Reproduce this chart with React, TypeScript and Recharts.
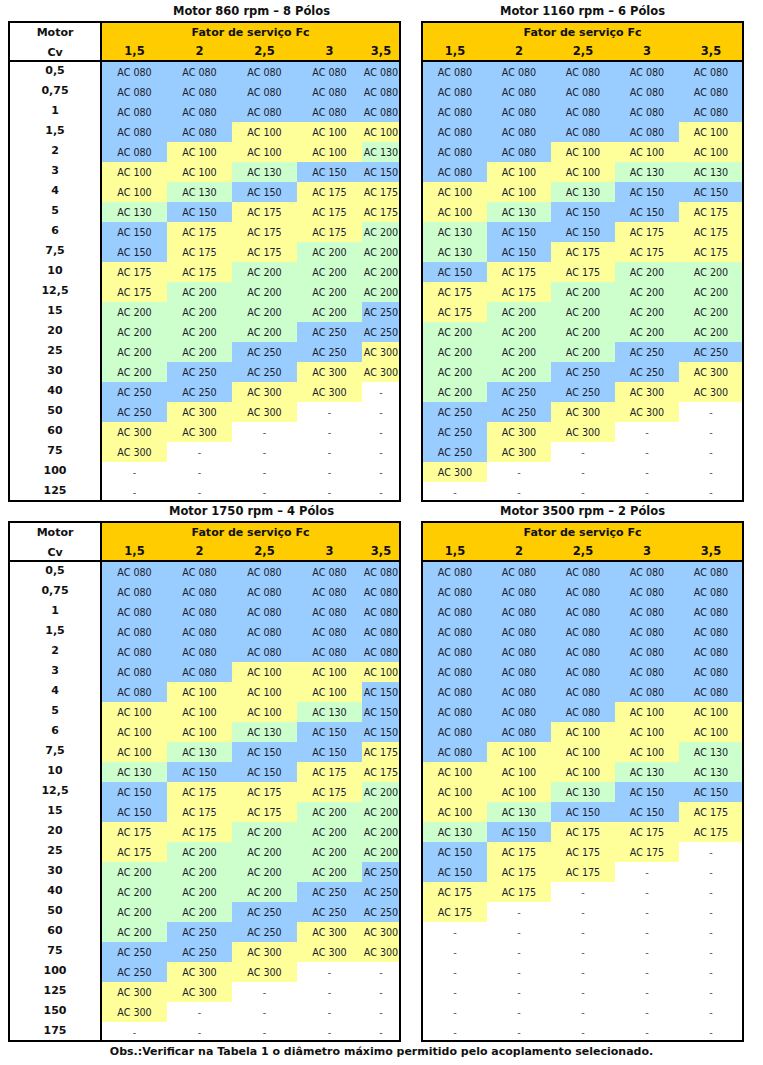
import { ScatterChart, Scatter, XAxis, YAxis } from "recharts";

const FONT = "'DejaVu Sans', Verdana, sans-serif";

const fcLabels = ["1,5", "2", "2,5", "3", "3,5"];

const cvTop = ["0,5", "0,75", "1", "1,5", "2", "3", "4", "5", "6", "7,5", "10", "12,5", "15", "20", "25", "30", "40", "50", "60", "75", "100", "125"];
const cvBottom = ["0,5", "0,75", "1", "1,5", "2", "3", "4", "5", "6", "7,5", "10", "12,5", "15", "20", "25", "30", "40", "50", "60", "75", "100", "125", "150", "175"];

// tamanho do acoplamento AC; 0 = "-"
const sizes860 = [
  [80, 80, 80, 80, 80],
  [80, 80, 80, 80, 80],
  [80, 80, 80, 80, 80],
  [80, 80, 100, 100, 100],
  [80, 100, 100, 100, 130],
  [100, 100, 130, 150, 150],
  [100, 130, 150, 175, 175],
  [130, 150, 175, 175, 175],
  [150, 175, 175, 175, 200],
  [150, 175, 175, 200, 200],
  [175, 175, 200, 200, 200],
  [175, 200, 200, 200, 200],
  [200, 200, 200, 200, 250],
  [200, 200, 200, 250, 250],
  [200, 200, 250, 250, 300],
  [200, 250, 250, 300, 300],
  [250, 250, 300, 300, 0],
  [250, 300, 300, 0, 0],
  [300, 300, 0, 0, 0],
  [300, 0, 0, 0, 0],
  [0, 0, 0, 0, 0],
  [0, 0, 0, 0, 0],
];

const sizes1160 = [
  [80, 80, 80, 80, 80],
  [80, 80, 80, 80, 80],
  [80, 80, 80, 80, 80],
  [80, 80, 80, 80, 100],
  [80, 80, 100, 100, 100],
  [80, 100, 100, 130, 130],
  [100, 100, 130, 150, 150],
  [100, 130, 150, 150, 175],
  [130, 150, 150, 175, 175],
  [130, 150, 175, 175, 175],
  [150, 175, 175, 200, 200],
  [175, 175, 200, 200, 200],
  [175, 200, 200, 200, 200],
  [200, 200, 200, 200, 200],
  [200, 200, 200, 250, 250],
  [200, 200, 250, 250, 300],
  [200, 250, 250, 300, 300],
  [250, 250, 300, 300, 0],
  [250, 300, 300, 0, 0],
  [250, 300, 0, 0, 0],
  [300, 0, 0, 0, 0],
  [0, 0, 0, 0, 0],
];

const sizes1750 = [
  [80, 80, 80, 80, 80],
  [80, 80, 80, 80, 80],
  [80, 80, 80, 80, 80],
  [80, 80, 80, 80, 80],
  [80, 80, 80, 80, 80],
  [80, 80, 100, 100, 100],
  [80, 100, 100, 100, 150],
  [100, 100, 100, 130, 150],
  [100, 100, 130, 150, 150],
  [100, 130, 150, 150, 175],
  [130, 150, 150, 175, 175],
  [150, 175, 175, 175, 200],
  [150, 175, 175, 200, 200],
  [175, 175, 200, 200, 200],
  [175, 200, 200, 200, 200],
  [200, 200, 200, 200, 250],
  [200, 200, 200, 250, 250],
  [200, 200, 250, 250, 250],
  [200, 250, 250, 300, 300],
  [250, 250, 300, 300, 300],
  [250, 300, 300, 0, 0],
  [300, 300, 0, 0, 0],
  [300, 0, 0, 0, 0],
  [0, 0, 0, 0, 0],
];

const sizes3500 = [
  [80, 80, 80, 80, 80],
  [80, 80, 80, 80, 80],
  [80, 80, 80, 80, 80],
  [80, 80, 80, 80, 80],
  [80, 80, 80, 80, 80],
  [80, 80, 80, 80, 80],
  [80, 80, 80, 80, 80],
  [80, 80, 80, 100, 100],
  [80, 80, 100, 100, 100],
  [80, 100, 100, 100, 130],
  [100, 100, 100, 130, 130],
  [100, 100, 130, 150, 150],
  [100, 130, 150, 150, 175],
  [130, 150, 175, 175, 175],
  [150, 175, 175, 175, 0],
  [150, 175, 175, 0, 0],
  [175, 175, 0, 0, 0],
  [175, 0, 0, 0, 0],
  [0, 0, 0, 0, 0],
  [0, 0, 0, 0, 0],
  [0, 0, 0, 0, 0],
  [0, 0, 0, 0, 0],
  [0, 0, 0, 0, 0],
  [0, 0, 0, 0, 0],
];

const BLUE = "#99ccff";
const YELLOW = "#ffff99";
const GREEN = "#ccffcc";
const HEAD = "#ffcc00";
const FILL: Record<number, string> = {
  80: BLUE, 100: YELLOW, 130: GREEN, 150: BLUE, 175: YELLOW, 200: GREEN, 250: BLUE, 300: YELLOW,
};

const ROW_H = 20;

function Panel({ title, cv, sizes, x, y, w, withCv = false }: {
  title: string; cv: string[]; sizes: number[][]; x: number; y: number; w: number; withCv?: boolean;
}) {
  const h = 41 + cv.length * ROW_H;
  const colW = withCv ? 65 : 64;
  const plotLeft = withCv ? x + 94 : x + 2;
  const axisW = withCv ? 92 : 0;
  const left = plotLeft - axisW;
  const chartW = axisW + 5 * colW;
  const chartH = 20 + cv.length * ROW_H;
  const clipX = x + w - 1 - left;
  const visibleW = Math.min(chartW, clipX);
  const headW = x + w - 2 - plotLeft;

  const points = cv.flatMap((c, i) => fcLabels.map((fc, j) => ({ cv: c, fc, size: sizes[i][j] })));

  const cell = (p: any) => {
    const { cx, cy, payload } = p;
    const x0 = cx - colW / 2;
    const x1 = Math.min(cx + colW / 2, clipX);
    const v = payload.size;
    return (
      <g>
        {v ? <rect x={x0} y={cy - ROW_H / 2} width={x1 - x0} height={ROW_H} fill={FILL[v]} /> : null}
        <text x={(x0 + x1) / 2} y={cy} dy={3.5} textAnchor="middle" fontSize={9.6} fontFamily={FONT} fill={v ? "#1c1c2c" : "#555"}>
          {v ? `AC ${String(v).padStart(3, "0")}` : "-"}
        </text>
      </g>
    );
  };

  const fcTick = (p: any) => {
    const x0 = p.x - colW / 2;
    const x1 = Math.min(p.x + colW / 2, clipX);
    return (
      <g>
        <rect x={x0} y={0} width={x1 - x0} height={19} fill={HEAD} />
        <text x={(x0 + x1) / 2} y={13} textAnchor="middle" fontWeight="bold" fontSize={11.5} fontFamily={FONT} fill="#111" stroke="none">
          {p.payload.value}
        </text>
      </g>
    );
  };

  const cvTick = (p: any) => (
    <text x={45} y={p.y} dy={2} textAnchor="middle" fontWeight="bold" fontSize={11} fontFamily={FONT} fill="#111" stroke="none">
      {p.payload.value}
    </text>
  );

  const bold = { position: "absolute" as const, fontWeight: "bold", fontSize: 11, textAlign: "center" as const, lineHeight: "normal", whiteSpace: "nowrap" as const };

  return (
    <>
      <div style={{ ...bold, fontSize: 11.5, left: withCv ? x + 94 : x, width: withCv ? w - 94 : w, top: y - 17 }}>{title}</div>
      <div style={{ position: "absolute", left: plotLeft, top: y + 2, width: headW, height: 37, background: HEAD }} />
      <div style={{ position: "absolute", left, top: y + 21, width: visibleW, height: chartH, overflow: "hidden" }}>
        <ScatterChart width={chartW} height={chartH} margin={{ top: 0, right: 0, bottom: 0, left: 0 }}>
          <XAxis
            dataKey="fc"
            type="category"
            scale="band"
            orientation="top"
            height={20}
            allowDuplicatedCategory={false}
            interval={0}
            tickLine={false}
            axisLine={false}
            tick={fcTick}
          />
          <YAxis
            dataKey="cv"
            type="category"
            scale="band"
            width={axisW}
            hide={!withCv}
            reversed
            allowDuplicatedCategory={false}
            interval={0}
            tickLine={false}
            axisLine={false}
            tick={cvTick}
          />
          <Scatter data={points} shape={cell} isAnimationActive={false} />
        </ScatterChart>
      </div>
      <div style={{ position: "absolute", left: x, top: y, width: w, height: h, border: "2px solid #000", boxSizing: "border-box", pointerEvents: "none" }} />
      <div style={{ position: "absolute", left: x, top: y + 39, width: w, height: 2, background: "#000" }} />
      {withCv ? <div style={{ position: "absolute", left: x + 92, top: y, width: 2, height: h, background: "#000" }} /> : null}
      <div style={{ ...bold, left: plotLeft, width: headW, top: y + 5 }}>Fator de serviço Fc</div>
      {withCv ? (
        <>
          <div style={{ ...bold, left: x, width: 94, top: y + 5 }}>Motor</div>
          <div style={{ ...bold, left: x, width: 94, top: y + 25 }}>Cv</div>
        </>
      ) : null}
    </>
  );
}

export default function App() {
  return (
    <div style={{ position: "absolute", left: 0, top: 0, width: 763, height: 1065, background: "#fff", fontFamily: FONT, color: "#111" }}>
      <Panel title="Motor 860 rpm – 8 Pólos" cv={cvTop} sizes={sizes860} x={8} y={21} w={393} withCv />
      <Panel title="Motor 1160 rpm – 6 Pólos" cv={cvTop} sizes={sizes1160} x={421} y={21} w={323} />
      <Panel title="Motor 1750 rpm – 4 Pólos" cv={cvBottom} sizes={sizes1750} x={8} y={521} w={393} withCv />
      <Panel title="Motor 3500 rpm – 2 Pólos" cv={cvBottom} sizes={sizes3500} x={421} y={521} w={323} />
      <div style={{ position: "absolute", left: 0, width: 763, top: 1045, textAlign: "center", fontWeight: "bold", fontSize: 11, lineHeight: "normal" }}>
        Obs.:Verificar na Tabela 1 o diâmetro máximo permitido pelo acoplamento selecionado.
      </div>
    </div>
  );
}
